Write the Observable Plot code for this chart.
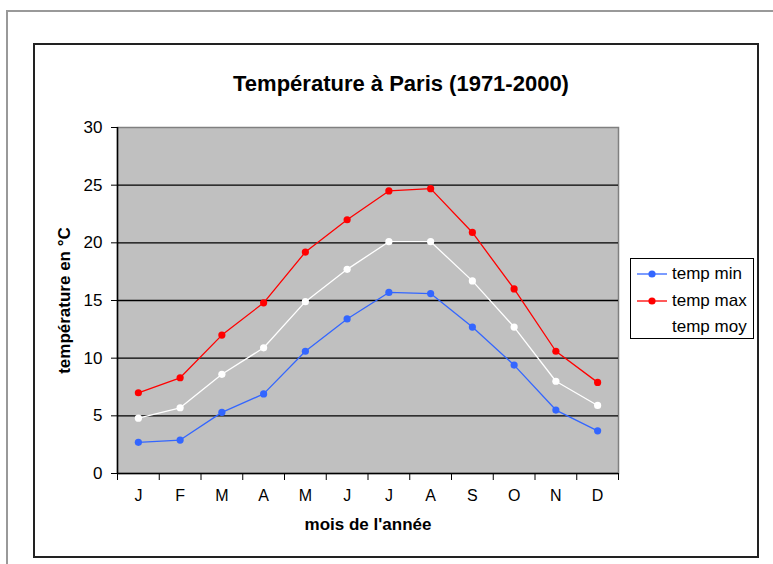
<!DOCTYPE html>
<html>
<head>
<meta charset="utf-8">
<script src="https://cdn.jsdelivr.net/npm/d3@7"></script>
<script src="https://cdn.jsdelivr.net/npm/@observablehq/plot@0.6"></script>
<style>
  html, body { margin: 0; padding: 0; background: #fff; overflow: hidden; }
  #wrap { position: relative; width: 773px; height: 564px; font-family: "Liberation Sans", Arial, sans-serif; }
  #outer { position: absolute; left: 6px; top: 10px; width: 800px; height: 600px; border-left: 2px solid #999; border-top: 2px solid #999; box-sizing: border-box; }
  #inner { position: absolute; left: 33px; top: 43px; width: 726px; height: 515px; border: 2px solid #222; box-sizing: border-box; background: #fff; }
  #chart { position: absolute; left: 0; top: 0; }
  #legend { position: absolute; left: 630px; top: 258px; width: 124px; height: 81px; border: 1px solid #000; box-sizing: border-box; background: #fff; }
  .item { position: absolute; left: 0; height: 20px; width: 122px; }
  .item svg { position: absolute; left: 6px; top: 0; }
  .item span { position: absolute; left: 41px; top: 0; font-size: 17px; line-height: 20px; color: #000; }
</style>
</head>
<body>
<div id="wrap">
  <div id="outer"></div>
  <div id="inner"></div>
  <div id="chart"></div>
  <div id="legend"></div>
</div>
<script>
const months = ["J","F","M","A","M","J","J","A","S","O","N","D"];
const tempMin = [2.7, 2.9, 5.3, 6.9, 10.6, 13.4, 15.7, 15.6, 12.7, 9.4, 5.5, 3.7];
const tempMax = [7.0, 8.3, 12.0, 14.8, 19.2, 22.0, 24.5, 24.7, 20.9, 16.0, 10.6, 7.9];
const tempMoy = [4.8, 5.7, 8.6, 10.9, 14.9, 17.7, 20.1, 20.1, 16.7, 12.7, 8.0, 5.9];
const yTicks = [0, 5, 10, 15, 20, 25, 30];
const seriesNames = ["temp min", "temp max", "temp moy"];
const seriesColors = ["#3366ff", "#ff0000", "#ffffff"];
const titleText = "Température à Paris (1971-2000)";
const xLabel = "mois de l'année";
const yLabel = "température en °C";

const seriesVals = [tempMin, tempMax, tempMoy];
const rows = [];
seriesVals.forEach((vals, s) => vals.forEach((v, i) => rows.push({series: seriesNames[s], i, month: months[i], value: v})));

const lineMarks = [2, 1, 0].flatMap(s => {
  const d = rows.filter(r => r.series === seriesNames[s]);
  return [
    Plot.line(d, {x: r => r.i + 0.5, y: "value", stroke: seriesColors[s], strokeWidth: 1.3}),
    Plot.dot(d, {x: r => r.i + 0.5, y: "value", fill: seriesColors[s], r: 3.6, stroke: "none"})
  ];
});

const chart = Plot.plot({
  width: 773,
  height: 564,
  marginLeft: 117,
  marginRight: 155,
  marginTop: 127,
  marginBottom: 91,
  style: {background: "transparent", fontFamily: "'Liberation Sans', Arial, sans-serif", fontSize: "17px", color: "#000"},
  x: {type: "linear", domain: [0, months.length], axis: null},
  y: {domain: [0, 30], axis: null},
  marks: [
    Plot.frame({fill: "#c0c0c0", stroke: "#808080", strokeWidth: 1.5}),
    Plot.ruleY(yTicks.filter(t => t > 0 && t < 30), {stroke: "#000", strokeWidth: 1.3}),
    Plot.ruleY([0], {stroke: "#000", strokeWidth: 1.5}),
    Plot.ruleX([0], {stroke: "#000", strokeWidth: 1.5}),
    Plot.axisY({ticks: yTicks, tickSize: 6, tickPadding: 9, fontSize: 17, stroke: "#000", label: null}),
    Plot.axisX({ticks: d3.range(0, months.length + 1), tickSize: 7, tickFormat: () => "", stroke: "#000", label: null}),
    Plot.text(months, {x: (d, i) => i + 0.5, frameAnchor: "bottom", dy: 27, text: d => d, fontSize: 16, fill: "#000"}),
    ...lineMarks,
    Plot.text([titleText], {frameAnchor: "top", dx: 33, dy: -52, text: d => d, fontSize: 22, fontWeight: "bold", fill: "#000"}),
    Plot.text([xLabel], {frameAnchor: "bottom", dy: 56, text: d => d, fontSize: 17, fontWeight: "bold", fill: "#000"}),
    Plot.text([yLabel], {frameAnchor: "left", textAnchor: "middle", dx: -53, rotate: -90, text: d => d, fontSize: 17, fontWeight: "bold", fill: "#000"})
  ]
});
document.getElementById("chart").appendChild(chart);

const legend = document.getElementById("legend");
const itemTops = [5, 32, 58];
seriesNames.forEach((name, s) => {
  const item = document.createElement("div");
  item.className = "item";
  item.style.top = itemTops[s] + "px";
  const c = seriesColors[s];
  item.innerHTML = `<svg width="32" height="20"><line x1="0" y1="10" x2="30" y2="10" stroke="${c}" stroke-width="1.3"/><circle cx="15" cy="10" r="3.6" fill="${c}"/></svg><span>${name}</span>`;
  legend.appendChild(item);
});
</script>
</body>
</html>
